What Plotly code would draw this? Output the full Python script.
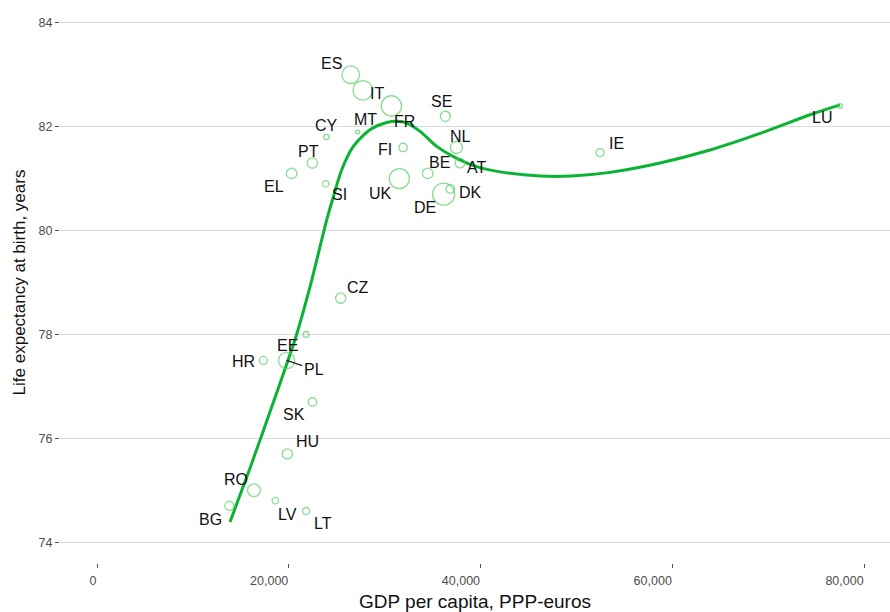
import numpy as np
import plotly.graph_objects as go

# ---- data ----
codes = ["ES", "IT", "FR", "MT", "CY", "SE", "NL", "FI", "PT", "EL", "SI", "UK", "BE", "AT",
         "DE", "DK", "IE", "LU", "CZ", "EE", "HR", "PL", "SK", "HU", "RO", "BG", "LV", "LT"]
gdp = [26460, 27720, 30700, 27190, 23920, 36330, 37480, 31920, 22460, 20300, 23840, 31530, 34490, 37860,
       36150, 36850, 52460, 77490, 25420, 21800, 17350, 19780, 22460, 19850, 16370, 13800, 18600, 21800]
life = [83.0, 82.7, 82.4, 81.9, 81.8, 82.2, 81.6, 81.6, 81.3, 81.1, 80.9, 81.0, 81.1, 81.3,
        80.7, 80.8, 81.5, 82.4, 78.7, 78.0, 77.5, 77.5, 76.7, 75.7, 75.0, 74.7, 74.8, 74.6]
population = [46.4, 60.8, 66.4, 0.43, 0.85, 9.7, 16.9, 5.5, 10.4, 10.9, 2.06, 64.9, 11.2, 8.6,
              81.2, 5.66, 4.63, 0.56, 10.5, 1.31, 4.23, 38.0, 5.42, 9.86, 19.9, 7.2, 1.99, 2.92]

trend_gdp = [13870, 16000, 18500, 20750, 22220, 23430, 23950, 24650, 25520, 26730, 28470, 30210,
             31600, 32300, 33690, 35430, 37520, 39600, 42040, 46200, 49500, 53500, 58720, 63930,
             69150, 74360, 77490]
trend_life = [74.39, 75.45, 76.75, 77.96, 78.92, 79.82, 80.20, 80.65, 81.17, 81.62, 81.94, 82.08,
              82.10, 82.07, 81.91, 81.62, 81.39, 81.23, 81.13, 81.05, 81.05, 81.12, 81.30, 81.55,
              81.87, 82.23, 82.42]

x_ticks = [0, 20000, 40000, 60000, 80000]
x_tick_labels = ["0", "20,000", "40,000", "60,000", "80,000"]
y_ticks = [74, 76, 78, 80, 82, 84]

# ---- label placement (pixel offsets from each point: right, down) ----
label_offsets = {
    "ES": (-19, -11), "IT": (14, 3), "FR": (13, 16), "MT": (8, -12), "CY": (0, -12),
    "SE": (-4, -15), "NL": (4, -11), "FI": (-18, 2), "PT": (-4, -12), "EL": (-18, 13),
    "SI": (14, 11), "UK": (-19, 15), "BE": (12, -11), "AT": (16, 4), "DE": (-19, 13),
    "DK": (20, 3), "IE": (16, -9), "LU": (-18, 12), "CZ": (17, -11), "EE": (-19, 11),
    "HR": (-20, 1), "PL": (27, 9), "SK": (-18, 13), "HU": (20, -12), "RO": (-18, -11),
    "BG": (-19, 14), "LV": (12, 14), "LT": (17, 12),
}
arrow_labels = {"PL"}

# ---- bubble sizes (ggplot-like area scale) ----
pop = np.array(population)
pmin, pmax = pop.min(), pop.max()
radius = 2 + np.sqrt((pop - pmin) / (pmax - pmin)) * 9
diam = 2 * radius

FONT = "Liberation Sans, Arial, sans-serif"
fig = go.Figure()

fig.add_trace(go.Scatter(
    x=trend_gdp, y=trend_life, mode="lines",
    line=dict(color="rgb(10,180,50)", width=3, shape="spline", smoothing=0.8),
    hoverinfo="skip", showlegend=False,
))

fig.add_trace(go.Scatter(
    x=gdp, y=life, mode="markers", text=codes,
    marker=dict(size=diam, sizemode="diameter", color="rgba(0,0,0,0)",
                line=dict(color="rgb(90,205,105)", width=1.3)),
    showlegend=False,
))

annotations = []
for c, gx, ly, r in zip(codes, gdp, life, radius):
    dx, dy = label_offsets[c]
    if c in arrow_labels:
        annotations.append(dict(
            x=gx, y=ly, xref="x", yref="y", text=c, showarrow=True,
            ax=dx, ay=dy, arrowhead=0, arrowwidth=1.2, arrowcolor="#222222",
            standoff=0, font=dict(family=FONT, size=16, color="#111111"),
        ))
    else:
        annotations.append(dict(
            x=gx, y=ly, xref="x", yref="y", text=c, showarrow=False,
            xshift=dx, yshift=-dy, font=dict(family=FONT, size=16, color="#111111"),
        ))

fig.update_layout(
    width=890, height=612,
    margin=dict(l=60, r=0, t=2, b=49),
    paper_bgcolor="white", plot_bgcolor="white",
    font=dict(family=FONT),
    annotations=annotations,
    showlegend=False,
)

fig.update_xaxes(
    range=[-3860, 82700], automargin=False,
    tickvals=x_ticks, ticktext=x_tick_labels,
    ticklabelposition="outside left", ticklabelstandoff=6,
    showgrid=False, zeroline=False, showline=False,
    ticks="outside", ticklen=4, tickwidth=1, tickcolor="#555555",
    tickfont=dict(family=FONT, size=12.5, color="#4d4d4d"),
    title=dict(text="GDP per capita, PPP-euros", font=dict(family=FONT, size=19, color="#111111"),
               standoff=10),
)
fig.update_yaxes(
    range=[73.6, 84.4], automargin=False,
    tickvals=y_ticks,
    showgrid=True, gridcolor="#dcdcdc", gridwidth=1,
    zeroline=False, showline=False,
    ticks="outside", ticklen=4, tickwidth=1, tickcolor="#555555",
    tickfont=dict(family=FONT, size=12.5, color="#4d4d4d"),
    title=dict(text="Life expectancy at birth, years", font=dict(family=FONT, size=17, color="#111111"),
               standoff=8),
)

fig.write_html("out.html", post_script="document.body.style.margin='0';",
               config={"displayModeBar": False})
